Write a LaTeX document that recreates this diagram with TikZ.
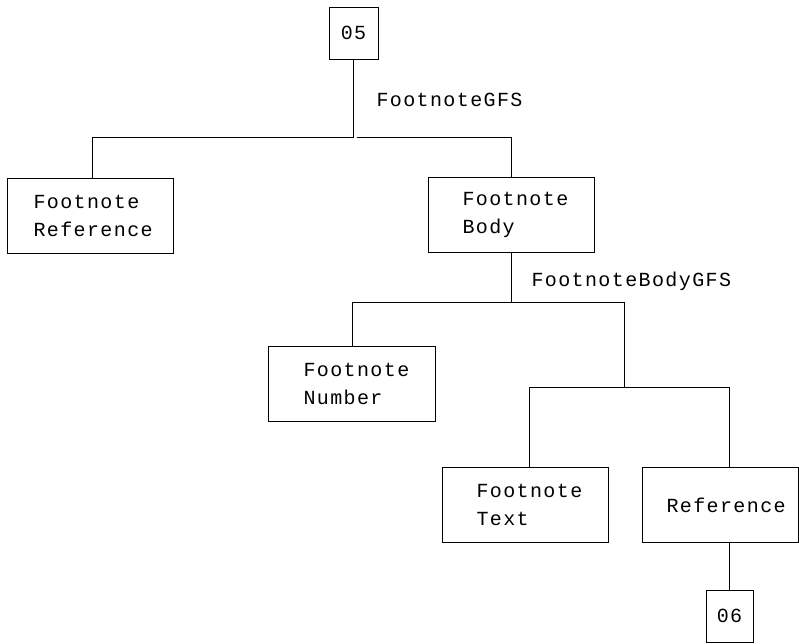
\documentclass[tikz,border=0pt]{standalone}
\usepackage{fontspec}
\newfontfamily\tfont[LetterSpace=7]{Liberation Mono}
\newcommand{\tsize}{\fontsize{20}{27.5}\selectfont\tfont}
\begin{document}
\begin{tikzpicture}[x=1pt,y=-1pt,line width=1pt,
  lbl/.style={font=\tsize, inner sep=0pt},
  box/.style={draw, rectangle, anchor=north west, minimum height=75pt,
    inner ysep=0pt, align=left, font=\tsize},
  sq/.style={draw, rectangle, inner sep=0pt, minimum height=52pt, font=\tsize}]
\useasboundingbox (0,0) rectangle (799,643);
% nodes
\node[sq, minimum width=49pt] (n05) at (353.5,33) {05};
\node[box, text width=114pt, inner xsep=26pt] (fr) at (7,178) {Footnote\\Reference};
\node[box, text width=98pt, inner xsep=34pt] (fb) at (428,177) {Footnote\\Body};
\node[box, text width=97pt, inner xsep=35pt] (fn) at (268,346) {Footnote\\Number};
\node[box, text width=98pt, inner xsep=34pt] (ft) at (442,467) {Footnote\\Text};
\node[box, text width=108pt, inner xsep=24pt] (rf) at (642,467) {Reference};
\node[sq, minimum width=47pt] (n06) at (729.5,616) {06};
\node[lbl, anchor=base west] (gfs) at (376,106) {FootnoteGFS};
\node[lbl, anchor=base west] (bgfs) at (531,286) {FootnoteBodyGFS};
% junctions
\coordinate (j1) at (353.5,137);
\coordinate (j1r) at (357,137);
\coordinate (j2) at (511.5,302);
\coordinate (j3) at (624.5,387);
% connectors
\draw (n05.south) -- (j1);
\draw (j1) -| ([xshift=2pt]fr.north);
\draw (j1r) -| (fb.north);
\draw (fb.south) -- (j2);
\draw (j2) -| (fn.north);
\draw (j2) -| (j3);
\draw (j3) -| ([xshift=4pt]ft.north);
\draw (j3) -| ([xshift=9pt]rf.north);
\draw ([xshift=9pt]rf.south) -- (n06.north);
\end{tikzpicture}
\end{document}
